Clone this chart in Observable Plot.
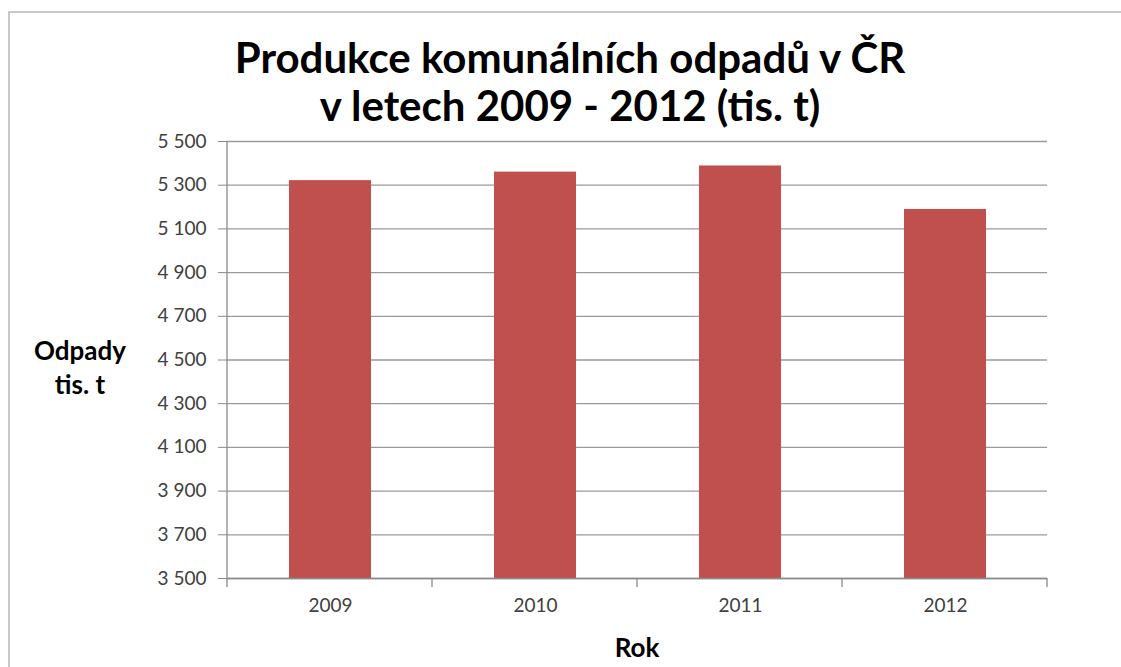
<!DOCTYPE html>
<html>
<head>
<meta charset="utf-8">
<script src="https://cdn.jsdelivr.net/npm/d3@7"></script>
<script src="https://cdn.jsdelivr.net/npm/@observablehq/plot@0.6"></script>
<style>
  html, body { margin: 0; padding: 0; background: #fff; }
  #wrap { position: relative; width: 1121px; height: 667px; overflow: hidden; font-family: Lato, "Open Sans", sans-serif; }
  #frame { position: absolute; left: 8px; top: 11px; width: 1200px; height: 700px; border-left: 2px solid #c8c8c8; border-top: 2px solid #c8c8c8; }
  #title { position: absolute; left: 0; width: 1140px; top: 33px; text-align: center; font-weight: 700; font-size: 42px; line-height: 48px; color: #000; }
  .axt { position: absolute; font-weight: 700; font-size: 26px; color: #000; text-align: center; }
  #chart { position: absolute; left: 0; top: 0; }
</style>
</head>
<body>
<div id="wrap">
  <div id="frame"></div>
  <div id="chart"></div>
  <div id="title">Produkce komunálních odpadů v ČR<br>v letech 2009 - 2012 (tis. t)</div>
  <div class="axt" id="ylab" style="left:10px; width:140px; top:333px; line-height:34px;">Odpady<br>tis. t</div>
  <div class="axt" id="xlab" style="left:587px; width:100px; top:631px;">Rok</div>
</div>
<script>
const years = ["2009", "2010", "2011", "2012"];
const waste = [5321, 5360, 5388, 5189];
const yTicks = [3500, 3700, 3900, 4100, 4300, 4500, 4700, 4900, 5100, 5300, 5500];

const data = years.map((y, i) => ({year: y, value: waste[i]}));
const fmt = d => d3.format(",")(d).replace(/,/g, " ");

const W = 1121, H = 667;
const mL = 227, mR = W - 1047, mT = 141, mB = H - 578;

const chart = Plot.plot({
  width: W,
  height: H,
  marginLeft: mL,
  marginRight: mR,
  marginTop: mT,
  marginBottom: mB,
  style: {fontFamily: "Lato, 'Open Sans', sans-serif", fontSize: "19px", color: "#404040", background: "transparent"},
  x: {domain: years, paddingInner: 0.6, paddingOuter: 0.3, label: null},
  y: {domain: [3500, 5500], label: null},
  marks: [
    Plot.gridY(yTicks, {stroke: "#9a9a9a", strokeOpacity: 1, strokeWidth: 1.3}),
    Plot.barY(data, {x: "year", y1: 3500, y2: "value", fill: "#c0504d"}),
    Plot.axisY(yTicks, {tickFormat: fmt, tickSize: 9, tickPadding: 12, stroke: "#8a8a8a", fill: "#404040", fontSize: 19}),
    Plot.axisX({tickSize: 0, tickPadding: 20, fill: "#404040", fontSize: 19}),
    Plot.ruleY([3500], {stroke: "#8a8a8a", strokeWidth: 1.3}),
    // left axis line and category boundary ticks (Excel style, between categories)
    (index, scales, values, dims) => {
      const ns = "http://www.w3.org/2000/svg";
      const g = document.createElementNS(ns, "g");
      const line = (x1, y1, x2, y2) => {
        const l = document.createElementNS(ns, "line");
        l.setAttribute("x1", x1); l.setAttribute("x2", x2);
        l.setAttribute("y1", y1); l.setAttribute("y2", y2);
        l.setAttribute("stroke", "#8a8a8a"); l.setAttribute("stroke-width", 1.3);
        g.appendChild(l);
      };
      const n = years.length;
      const step = (dims.width - dims.marginLeft - dims.marginRight) / n;
      const yb = dims.height - dims.marginBottom;
      line(dims.marginLeft, dims.marginTop, dims.marginLeft, yb);
      for (let i = 0; i <= n; i++) {
        const x = dims.marginLeft + i * step;
        line(x, yb, x, yb + 9);
      }
      return g;
    }
  ]
});
document.getElementById("chart").appendChild(chart);
</script>
</body>
</html>
